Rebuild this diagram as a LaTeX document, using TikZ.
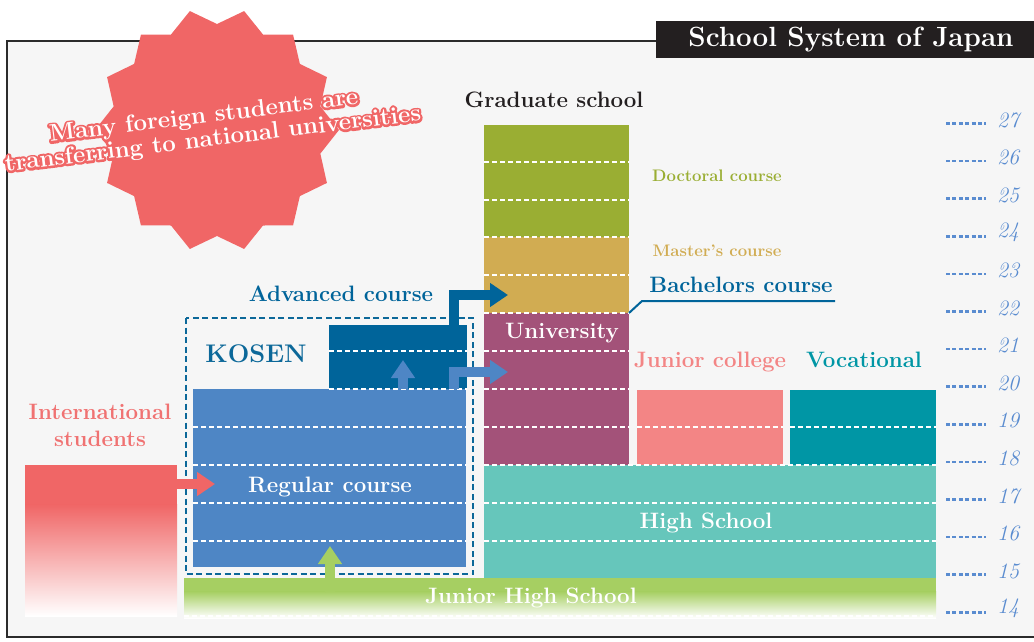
\documentclass[tikz,border=0pt]{standalone}
\usepackage{fontspec}
\usetikzlibrary{arrows.meta}
\definecolor{bg}{HTML}{F6F6F6}
\definecolor{framec}{HTML}{2B2B2B}
\definecolor{titlec}{HTML}{231F20}
\definecolor{starred}{HTML}{F06666}
\definecolor{intlt}{HTML}{F07272}
\definecolor{doct}{HTML}{9AAE33}
\definecolor{mast}{HTML}{D1AC52}
\definecolor{univ}{HTML}{A35279}
\definecolor{darkb}{HTML}{00649A}
\definecolor{kosent}{HTML}{0C6899}
\definecolor{regb}{HTML}{4E86C5}
\definecolor{jcol}{HTML}{F38585}
\definecolor{voc}{HTML}{0096A5}
\definecolor{hs}{HTML}{66C6BB}
\definecolor{jhs}{HTML}{A6CF62}
\definecolor{yearb}{HTML}{5A8CD0}
\newcommand\strokedtext[1]{\special{pdf:literal direct 2 Tr 4.6 w 1 j}#1\special{pdf:literal direct 0 Tr}}
\begin{document}
\begin{tikzpicture}[x=1pt,y=-1pt,
  lbl/.style={inner sep=0, font=\bfseries\fontsize{22.3}{25}\selectfont},
  smalllbl/.style={inner sep=0, font=\bfseries\fontsize{16.7}{18}\selectfont},
  wdash/.style={white, line width=2, dash pattern=on 5pt off 3pt},
  yearlbl/.style={inner sep=0, text=yearb, font=\itshape\fontsize{22}{24}\selectfont},
  leader/.style={yearb, line width=2.5, dash pattern=on 4pt off 2.4pt},
  fat/.style={line width=10, -{Triangle[length=18pt,width=23pt]}},
  startxt/.style={inner sep=0, rotate=7, font=\bfseries\fontsize{24}{26}\selectfont},
]
\useasboundingbox (0,0) rectangle (1034,641);
% frame
\fill[bg] (7,41) rectangle (1045,637);
\draw[framec, line width=2.5] (1045,41) -- (7,41) -- (7,637) -- (1045,637);
% title
\fill[titlec] (656,21) rectangle (1040,58);
\node[inner sep=0, text=white, font=\bfseries\fontsize{27.8}{30}\selectfont] (title) at (851,40) {School System of Japan};

% graduate / university column
\fill[doct] (484,125) rectangle (629,237);
\fill[mast] (484,237) rectangle (629,313);
\fill[univ] (484,313) rectangle (629,465);
% junior college / vocational
\fill[jcol] (637,390) rectangle (783,465);
\fill[voc] (790,390) rectangle (936,465);
% high school
\fill[hs] (484,465) rectangle (936,578);
% junior high
\fill[jhs] (184,578) rectangle (936,592);
\shade[top color=jhs, bottom color=white] (184,591.5) rectangle (936,618);
% international students
\fill[starred] (25,465) rectangle (177,505);
\shade[top color=starred, bottom color=white] (25,504.5) rectangle (177,616);
% KOSEN
\fill[regb] (193,389) rectangle (466,567);
\fill[darkb] (329,325) rectangle (467,389);
\draw[kosent, line width=2.8, dash pattern=on 6pt off 3.5pt] (186,318) rectangle (473,574);

% white dashed year lines
\foreach \yy in {162,200,237,275,313,351,389,427} \draw[wdash] (484,\yy) -- (629,\yy);
\foreach \yy in {465,503,541} \draw[wdash] (484,\yy) -- (936,\yy);
\draw[wdash] (637,427) -- (783,427);
\draw[wdash] (790,427) -- (936,427);
\foreach \yy in {427,465,503,541} \draw[wdash] (193,\yy) -- (466,\yy);
\draw[wdash] (329,351) -- (467,351);
\draw[wdash] (329,389) -- (467,389);
\draw[wdash] (184,616) -- (936,616);

% arrow end points
\coordinate (redS) at (167,484);
\coordinate (redE) at (215,484);
\coordinate (grnS) at (330,592);
\coordinate (grnE) at (330,546);
\coordinate (upS) at (403,389);
\coordinate (upE) at (403,360);
\coordinate (ltS) at (454,389);
\coordinate (ltE) at (508,372);
\coordinate (dkS) at (454,325);
\coordinate (dkE) at (508,295);
% arrows
\draw[fat, starred] (redS) -- (redE);
\draw[fat, jhs] (grnS) -- (grnE);
\draw[fat, regb] (upS) -- (upE);
\draw[fat, regb] (ltS) |- (ltE);
\draw[fat, darkb] (dkS) |- (dkE);

% bachelors leader
\coordinate (bachA) at (629,313);
\coordinate (bachB) at (642,301);
\coordinate (bachC) at (835,301);
\draw[darkb, line width=2] (bachA) -- (bachB) -- (bachC);

% labels
\node[lbl, text=titlec] (grad) at (554,100) {Graduate school};
\node[smalllbl, text=doct] (doc) at (717,176) {Doctoral course};
\node[smalllbl, text=mast] (mas) at (717,251) {Master’s course};
\node[lbl, text=darkb] (bach) at (741,285) {Bachelors course};
\node[lbl, text=white] (uni) at (562,333) {University};
\node[lbl, text=darkb] (adv) at (341,294) {Advanced course};
\node[inner sep=0, text=kosent, font=\bfseries\fontsize{25.5}{28}\selectfont] (kosen) at (256,354) {KOSEN};
\node[lbl, text=jcol] (jc) at (710,362) {Junior college};
\node[lbl, text=voc] (vo) at (864,360) {Vocational};
\node[lbl, text=intlt, align=center, font=\bfseries\fontsize{22.3}{27}\selectfont] (intl) at (100,425) {International\\students};
\node[lbl, text=white] (reg) at (330,487) {Regular course};
\node[lbl, text=white] (hsl) at (706,523) {High School};
\node[lbl, text=white] (jhl) at (531,598) {Junior High School};

% year scale
\foreach \a in {14,...,27} {
  \pgfmathsetmacro\ly{120+(27-\a)*37.6}
  \draw[leader] (946,{\ly+3.5}) -- (986,{\ly+3.5});
  \node[yearlbl] (yr\a) at (1008,\ly) {\a};
}

% starburst
\fill[starred] plot[samples at={0,...,27}] ({217+(mod(\x,2)==0?122:106)*cos(\x*12.857)},{130-(mod(\x,2)==0?122:106)*sin(\x*12.857)}) -- cycle;
\node[startxt, text=starred] (haloA) at (204,117) {\strokedtext{Many foreign students are}};
\node[startxt, text=starred] (haloB) at (213,140) {\strokedtext{transferring to national universities}};
\node[startxt, text=white] (starA) at (204,117) {Many foreign students are};
\node[startxt, text=white] (starB) at (213,140) {transferring to national universities};
\end{tikzpicture}
\end{document}
